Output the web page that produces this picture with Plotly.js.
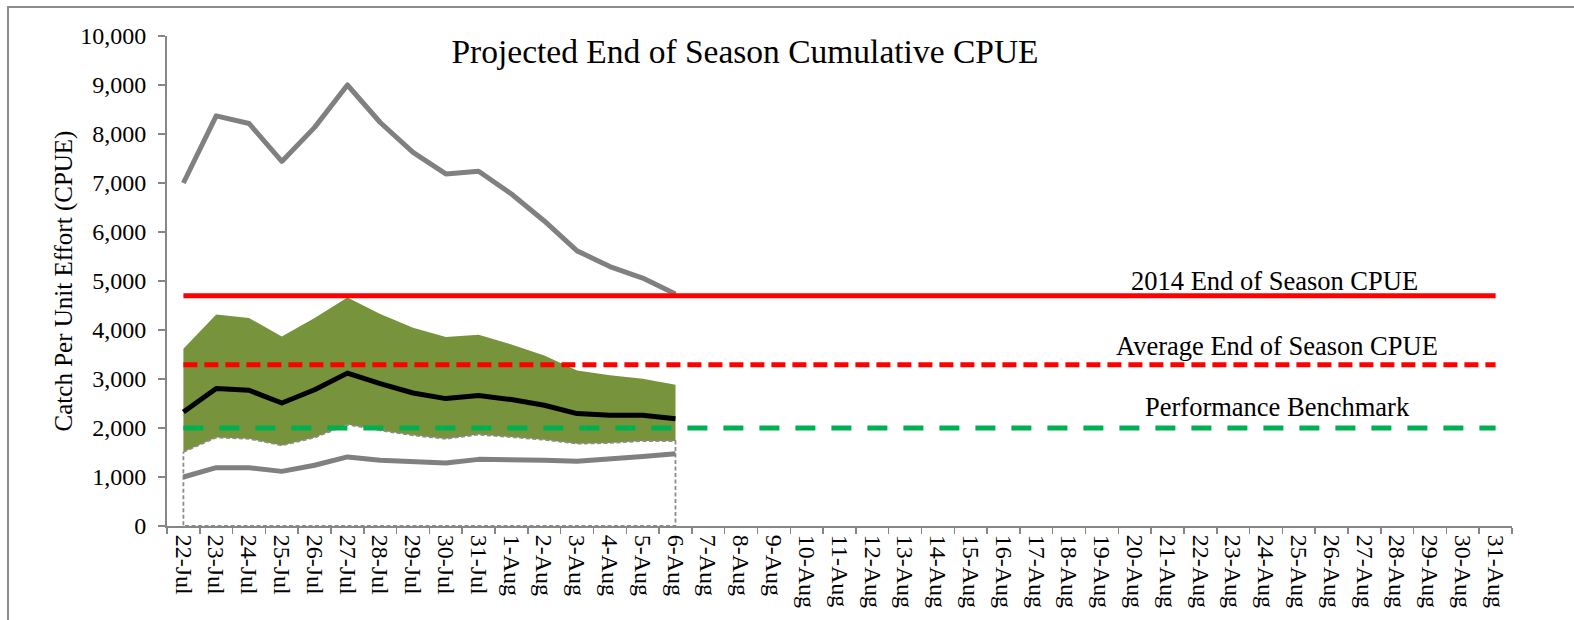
<!DOCTYPE html>
<html>
<head>
<meta charset="utf-8">
<script src="https://cdn.plot.ly/plotly-3.0.1.min.js"></script>
<style>
  html, body { margin: 0; padding: 0; background: #ffffff; overflow: hidden; }
  #chart { width: 1574px; height: 620px; position: relative; }
  #frame { position: absolute; left: 7px; top: 6px; width: 3000px; height: 3000px;
           border-left: 2px solid #8c8c8c; border-top: 2px solid #8c8c8c; pointer-events: none; z-index: 5; }
  #chart path.js-line { stroke-linejoin: round; }
</style>
</head>
<body>
<div id="chart"></div>
<div id="frame"></div>
<script>
// ---- Data ----
const tickLabels = ['22-Jul','23-Jul','24-Jul','25-Jul','26-Jul','27-Jul','28-Jul','29-Jul','30-Jul','31-Jul',
  '1-Aug','2-Aug','3-Aug','4-Aug','5-Aug','6-Aug','7-Aug','8-Aug','9-Aug','10-Aug','11-Aug','12-Aug','13-Aug',
  '14-Aug','15-Aug','16-Aug','17-Aug','18-Aug','19-Aug','20-Aug','21-Aug','22-Aug','23-Aug','24-Aug','25-Aug',
  '26-Aug','27-Aug','28-Aug','29-Aug','30-Aug','31-Aug'];
const dataDates = ['22-Jul','23-Jul','24-Jul','25-Jul','26-Jul','27-Jul','28-Jul','29-Jul','30-Jul','31-Jul',
  '1-Aug','2-Aug','3-Aug','4-Aug','5-Aug','6-Aug'];
const maxCPUE    = [7000, 8370, 8215, 7440, 8135, 9000, 8235, 7625, 7185, 7240, 6775, 6225, 5615, 5295, 5060, 4735];
const upperBand  = [3615, 4315, 4245, 3865, 4245, 4665, 4325, 4045, 3855, 3905, 3705, 3480, 3175, 3075, 3005, 2885];
const projected  = [2325, 2805, 2770, 2510, 2780, 3120, 2905, 2715, 2600, 2665, 2580, 2465, 2295, 2260, 2260, 2190];
const lowerBand  = [1510, 1805, 1780, 1645, 1805, 2070, 1950, 1850, 1780, 1865, 1815, 1760, 1680, 1695, 1735, 1735];
const minCPUE    = [1000, 1190, 1190, 1115, 1240, 1410, 1340, 1300, 1285, 1360, 1360, 1340, 1320, 1360, 1420, 1475];
const end2014CPUE = 4700;
const avgEndCPUE  = 3290;
const benchmark   = 2000;
const refLabels = ['2014 End of Season CPUE', 'Average End of Season CPUE', 'Performance Benchmark'];

// ---- Traces ----
const firstDate = tickLabels[0];
const lastDate = tickLabels[tickLabels.length - 1];
const bandStart = dataDates[0];
const bandEnd = dataDates[dataDates.length - 1];

const traces = [
  { x: dataDates, y: lowerBand, type: 'scatter', mode: 'lines', line: { width: 0 }, hoverinfo: 'skip', showlegend: false },
  { x: dataDates, y: upperBand, type: 'scatter', mode: 'lines', fill: 'tonexty', fillcolor: '#77933C',
    line: { width: 0 }, hoverinfo: 'skip', showlegend: false },
  { x: dataDates.concat([bandEnd, bandStart, bandStart]),
    y: lowerBand.concat([0, 0, lowerBand[0]]),
    type: 'scatter', mode: 'lines', line: { color: '#8c8c8c', width: 1.8, dash: '4px,2.5px' },
    hoverinfo: 'skip', showlegend: false },
  { x: dataDates, y: minCPUE, type: 'scatter', mode: 'lines', line: { color: '#808080', width: 5 }, showlegend: false },
  { x: dataDates, y: maxCPUE, type: 'scatter', mode: 'lines', line: { color: '#808080', width: 5 }, showlegend: false },
  { x: dataDates, y: projected, type: 'scatter', mode: 'lines', line: { color: '#000000', width: 5 }, showlegend: false },
  { x: [firstDate, lastDate], y: [end2014CPUE, end2014CPUE], type: 'scatter', mode: 'lines',
    line: { color: '#FF0000', width: 5 }, showlegend: false },
  { x: [firstDate, lastDate], y: [avgEndCPUE, avgEndCPUE], type: 'scatter', mode: 'lines',
    line: { color: '#FF0000', width: 5, dash: '14px,7px' }, showlegend: false },
  { x: [firstDate, lastDate], y: [benchmark, benchmark], type: 'scatter', mode: 'lines',
    line: { color: '#00B050', width: 5, dash: '20px,16px' }, showlegend: false }
];

const serif = 'Liberation Serif, Times New Roman, serif';

const layout = {
  width: 1574, height: 620,
  margin: { l: 167, r: 62, t: 36, b: 93.5 },
  paper_bgcolor: 'rgba(0,0,0,0)',
  plot_bgcolor: 'rgba(0,0,0,0)',
  showlegend: false,
  hovermode: false,
  font: { family: serif, color: '#000000' },
  title: {
    text: 'Projected End of Season Cumulative CPUE',
    font: { family: serif, size: 33.5, color: '#000000' },
    x: 745 / 1574, xanchor: 'center', xref: 'container',
    y: 1 - 51 / 620, yanchor: 'middle', yref: 'container'
  },
  xaxis: {
    type: 'category',
    categoryorder: 'array',
    categoryarray: tickLabels,
    range: [-0.5, tickLabels.length - 0.5],
    tickmode: 'linear', tick0: 0, dtick: 1,
    tickson: 'boundaries',
    ticks: 'outside', ticklen: 6, tickwidth: 1.5, tickcolor: '#868686',
    showline: true, linecolor: '#868686', linewidth: 2,
    showgrid: false, zeroline: false,
    tickangle: 90,
    tickfont: { family: serif, size: 24, color: '#000000' },
    ticklabelstandoff: 2,
    fixedrange: true
  },
  yaxis: {
    range: [0, 10000],
    tickmode: 'linear', tick0: 0, dtick: 1000,
    tickformat: ',d',
    ticks: 'outside', ticklen: 7, tickwidth: 1.5, tickcolor: '#868686',
    showline: true, linecolor: '#868686', linewidth: 2,
    showgrid: false, zeroline: false,
    tickfont: { family: serif, size: 24, color: '#000000' },
    ticklabelstandoff: 7,
    title: { text: 'Catch Per Unit Effort (CPUE)', font: { family: serif, size: 25, color: '#000000' }, standoff: 0 },
    fixedrange: true
  },
  annotations: [
    { text: refLabels[0], xref: 'paper', yref: 'y', x: 0.8235, y: 5010, xanchor: 'center', yanchor: 'middle',
      showarrow: false, font: { family: serif, size: 26.5, color: '#000000' } },
    { text: refLabels[1], xref: 'paper', yref: 'y', x: 0.8255, y: 3679, xanchor: 'center', yanchor: 'middle',
      showarrow: false, font: { family: serif, size: 26.5, color: '#000000' } },
    { text: refLabels[2], xref: 'paper', yref: 'y', x: 0.8255, y: 2436, xanchor: 'center', yanchor: 'middle',
      showarrow: false, font: { family: serif, size: 26.5, color: '#000000' } }
  ]
};

Plotly.newPlot('chart', traces, layout, { displayModeBar: false, staticPlot: true });
</script>
</body>
</html>
